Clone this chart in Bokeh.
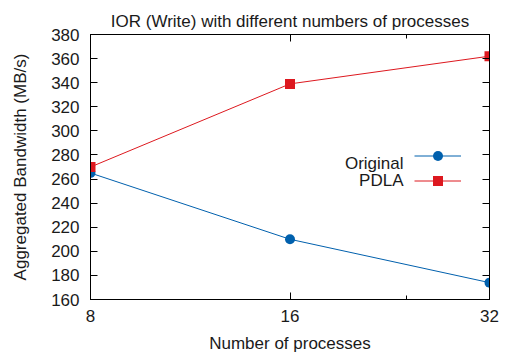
from bokeh.plotting import figure
from bokeh.models import (LinearAxis, LogAxis, FixedTicker, Legend, LegendItem,
                          Label, Range1d, BasicTickFormatter)
from bokeh.core.properties import value
from bokeh.embed import file_html
from bokeh.resources import INLINE

# ---- data ----
processes = [8, 16, 32]
original = [265, 210, 174]
pdla = [270, 339, 362]
x_ticks = [8, 16, 32]
x_minor_ticks = [24]
y_ticks = [160, 180, 200, 220, 240, 260, 280, 300, 320, 340, 360, 380]
series_names = ["Original", "PDLA"]

FONT = "Liberation Sans"
FS = "17px"
BLUE = "#0060ad"
RED = "#dd181f"
TXT = "#1a1a1a"

p = figure(width=508, height=358, x_axis_type="log",
           x_range=Range1d(8, 32), y_range=Range1d(160, 380),
           output_backend="svg", toolbar_location=None,
           min_border_left=90, min_border_right=19,
           min_border_top=34, min_border_bottom=59)

p.background_fill_color = "white"
p.border_fill_color = "white"
p.outline_line_color = "black"
p.outline_line_width = 1
p.xgrid.visible = False
p.ygrid.visible = False

# title
p.title.text = "IOR (Write) with different numbers of processes"
p.title.align = "center"
p.title.vertical_align = "top"
p.title.text_font = FONT
p.title.text_font_size = FS
p.title.text_font_style = "normal"
p.title.text_color = TXT
p.title.standoff = 4

# bottom axis
xa = p.xaxis[0]
xa.ticker = FixedTicker(ticks=x_ticks, minor_ticks=x_minor_ticks)
xa.formatter = BasicTickFormatter()
xa.axis_label = "Number of processes"
xa.axis_label_text_font = FONT
xa.axis_label_text_font_size = FS
xa.axis_label_text_font_style = "normal"
xa.axis_label_text_color = TXT
xa.axis_label_standoff = 9
xa.major_label_text_font = FONT
xa.major_label_text_font_size = FS
xa.major_label_text_color = TXT
xa.major_label_standoff = 10
xa.major_tick_in = 7
xa.major_tick_out = 0
xa.minor_tick_in = 4
xa.minor_tick_out = 0
xa.axis_line_color = "black"

# left axis
ya = p.yaxis[0]
ya.ticker = FixedTicker(ticks=y_ticks, minor_ticks=[])
ya.axis_label = "Aggregated Bandwidth (MB/s)"
ya.axis_label_text_font = FONT
ya.axis_label_text_font_size = FS
ya.axis_label_text_font_style = "normal"
ya.axis_label_text_color = TXT
ya.axis_label_standoff = 18
ya.major_label_text_font = FONT
ya.major_label_text_font_size = FS
ya.major_label_text_color = TXT
ya.major_label_standoff = 11
ya.major_tick_in = 7
ya.major_tick_out = 0
ya.minor_tick_line_color = None
ya.axis_line_color = "black"

# mirror axes (ticks only, no labels drawn)
top = LogAxis(ticker=FixedTicker(ticks=x_ticks, minor_ticks=x_minor_ticks),
              major_label_text_font_size="0px", major_label_text_color=None,
              major_label_standoff=0,
              major_tick_in=7, major_tick_out=0, minor_tick_in=4, minor_tick_out=0,
              axis_line_color="black")
p.add_layout(top, "above")
right = LinearAxis(ticker=FixedTicker(ticks=y_ticks, minor_ticks=[]),
                   major_label_text_font_size="0px", major_label_text_color=None,
                   major_label_standoff=0,
                   major_tick_in=7, major_tick_out=0, minor_tick_line_color=None,
                   axis_line_color="black")
p.add_layout(right, "right")

# series
l1 = p.line(processes, original, line_color=BLUE, line_width=1)
m1 = p.scatter(processes, original, marker="circle", size=10,
               fill_color=BLUE, line_color=None)
l2 = p.line(processes, pdla, line_color=RED, line_width=1)
m2 = p.scatter(processes, pdla, marker="square", size=10,
               fill_color=RED, line_color=None)

# legend: samples only; texts placed to the left as labels (gnuplot style)
legend = Legend(items=[LegendItem(label=value(" "), renderers=[l1, m1]),
                       LegendItem(label=value(" "), renderers=[l2, m2])],
                location=(324, 106), glyph_width=47, glyph_height=25,
                spacing=-8, padding=0, margin=0, label_standoff=0,
                label_width=0, label_height=17, label_text_font_size="0px",
                label_text_color=None,
                border_line_color=None, background_fill_alpha=0)
p.add_layout(legend, "center")

for name, yy in zip(series_names, [136, 119]):
    p.add_layout(Label(x=313, y=yy, x_units="screen", y_units="screen",
                       text=name, text_align="right", text_baseline="middle",
                       text_font=FONT, text_font_size=FS, text_color=TXT))

open("out.html", "w").write(file_html(p, INLINE))
